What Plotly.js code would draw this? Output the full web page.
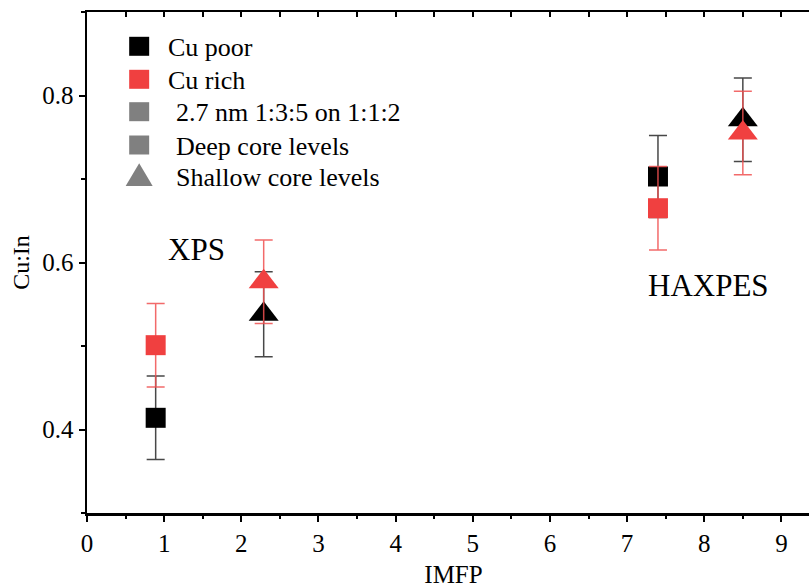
<!DOCTYPE html>
<html>
<head>
<meta charset="utf-8">
<script src="https://cdn.plot.ly/plotly-3.0.1.min.js"></script>
<style>
html,body{margin:0;padding:0;overflow:hidden;background:#fff;width:809px;height:588px;}
#chart{width:830px;height:588px;}
</style>
</head>
<body>
<div id="chart"></div>
<script>
// Data
const poorSqX = [0.89, 7.40];
const poorSqY = [0.414, 0.703];
const poorSqErr = [0.050, 0.049];

const richSqX = [0.89, 7.40];
const richSqY = [0.501, 0.665];
const richSqErr = [0.050, 0.050];

const poorTriX = [2.29, 8.50];
const poorTriY = [0.538, 0.771];
const poorTriErr = [0.051, 0.050];

const richTriX = [2.29, 8.50];
const richTriY = [0.577, 0.755];
const richTriErr = [0.050, 0.050];

const legendNames = ['Cu poor', 'Cu rich', '2.7 nm 1:3:5 on 1:1:2', 'Deep core levels', 'Shallow core levels'];
const legendSymbols = ['square', 'square', 'square', 'square', 'triangle'];
const legendColors = ['#000000', '#f04040', '#808080', '#808080', '#808080'];

const labelText = ['XPS', 'HAXPES'];
const labelX = [1.42, 8.05];
const labelY = [0.615, 0.572];

const BLACK = '#000000', RED = '#f04040';
const FONT = 'Liberation Serif, Times New Roman, serif';

// plot geometry (pixels)
const W = 830, H = 588, L = 86.5, T = 12, B = 75;
const XR = [0, 9.5], YR = [0.3, 0.9];
const R = W - L - 9.5 * 77.2;
const plotW = W - L - R, plotH = H - T - B;
const px2x = p => XR[0] + (p - L) / plotW * (XR[1] - XR[0]);
const py2y = p => YR[0] + (H - B - p) / plotH * (YR[1] - YR[0]);

function dataTrace(x, y, err, symbol, color, errColor, size) {
  return {
    type: 'scatter', mode: 'markers', x: x, y: y, showlegend: false,
    marker: {symbol: symbol, size: size, color: color, line: {width: 0}},
    error_y: {type: 'data', array: err, visible: true, color: errColor, thickness: 1.5, width: 9},
    cliponaxis: false, hoverinfo: 'skip'
  };
}

const traces = [
  dataTrace(poorSqX, poorSqY, poorSqErr, 'square', BLACK, 'rgba(40,40,40,0.85)', 20),
  dataTrace(poorTriX, poorTriY, poorTriErr, 'triangle-up', BLACK, 'rgba(40,40,40,0.85)', 26),
  dataTrace(richSqX, richSqY, richSqErr, 'square', RED, 'rgba(240,80,80,0.85)', 20),
  dataTrace(richTriX, richTriY, richTriErr, 'triangle-up', RED, 'rgba(240,80,80,0.85)', 26),
  {type: 'scatter', mode: 'markers', x: [null], y: [null], xaxis: 'x2', showlegend: false, hoverinfo: 'skip'}
];

// custom legend (shapes + text)
const legendRowsPx = [46.3, 79.3, 111.7, 145, 176];
const legendTextPx = [165.5, 165.5, 173.5, 173.5, 173.5];
const shapes = [];
const annotations = [];
legendNames.forEach((n, i) => {
  const cy = legendRowsPx[i], cx = 138.7;
  if (legendSymbols[i] === 'square') {
    shapes.push({type: 'rect', xref: 'x', yref: 'y',
      x0: px2x(cx - 10), x1: px2x(cx + 10), y0: py2y(cy + 9.5), y1: py2y(cy - 9.5),
      fillcolor: legendColors[i], line: {width: 0}});
  } else {
    const x0 = px2x(cx - 13.5), x1 = px2x(cx + 13.5), xm = px2x(cx);
    const yb = py2y(186), yt = py2y(163.3);
    shapes.push({type: 'path', xref: 'x', yref: 'y',
      path: `M ${x0},${yb} L ${x1},${yb} L ${xm},${yt} Z`,
      fillcolor: legendColors[i], line: {width: 0}});
  }
  annotations.push({xref: 'x', yref: 'y', x: px2x(legendTextPx[i]), y: py2y(cy + 1),
    xanchor: 'left', yanchor: 'middle', text: n, showarrow: false,
    font: {family: FONT, size: 26, color: '#000'}});
});

labelText.forEach((t, i) => annotations.push({
  x: labelX[i], y: labelY[i], xref: 'x', yref: 'y', text: t, showarrow: false,
  font: {family: FONT, size: 31, color: '#000'}
}));

const layout = {
  width: W, height: H,
  margin: {l: L, r: R, t: T, b: B},
  paper_bgcolor: '#fff', plot_bgcolor: '#fff',
  font: {family: FONT, color: '#000'},
  showlegend: false,
  xaxis: {
    range: XR, dtick: 1, tick0: 0,
    showgrid: false, zeroline: false,
    showline: true, linecolor: '#000', linewidth: 2.5, mirror: true,
    ticks: 'outside', ticklen: 6, tickwidth: 2, tickcolor: '#000',
    minor: {dtick: 0.5, ticks: 'outside', ticklen: 3.5, tickwidth: 2, tickcolor: '#000'},
    tickfont: {family: FONT, size: 25, color: '#000'},
    title: {text: 'IMFP', font: {family: FONT, size: 25, color: '#000'}, standoff: 19}
  },
  xaxis2: {
    overlaying: 'x', side: 'top', matches: 'x', range: XR,
    dtick: 0.5, tick0: 0, showticklabels: false,
    showgrid: false, zeroline: false, showline: false,
    ticks: 'inside', ticklen: 5, tickwidth: 2, tickcolor: '#000'
  },
  yaxis: {
    range: YR, dtick: 0.2, tick0: 0,
    showgrid: false, zeroline: false,
    showline: true, linecolor: '#000', linewidth: 2.5, mirror: true,
    ticks: 'outside', ticklen: 6, tickwidth: 2, tickcolor: '#000',
    minor: {dtick: 0.1, ticks: 'outside', ticklen: 3.5, tickwidth: 2, tickcolor: '#000'},
    tickfont: {family: FONT, size: 25, color: '#000'},
    title: {text: 'Cu:In', font: {family: FONT, size: 24, color: '#000'}, standoff: 6}
  },
  shapes: shapes,
  annotations: annotations
};

Plotly.newPlot('chart', traces, layout, {displayModeBar: false, staticPlot: true});
</script>
</body>
</html>
